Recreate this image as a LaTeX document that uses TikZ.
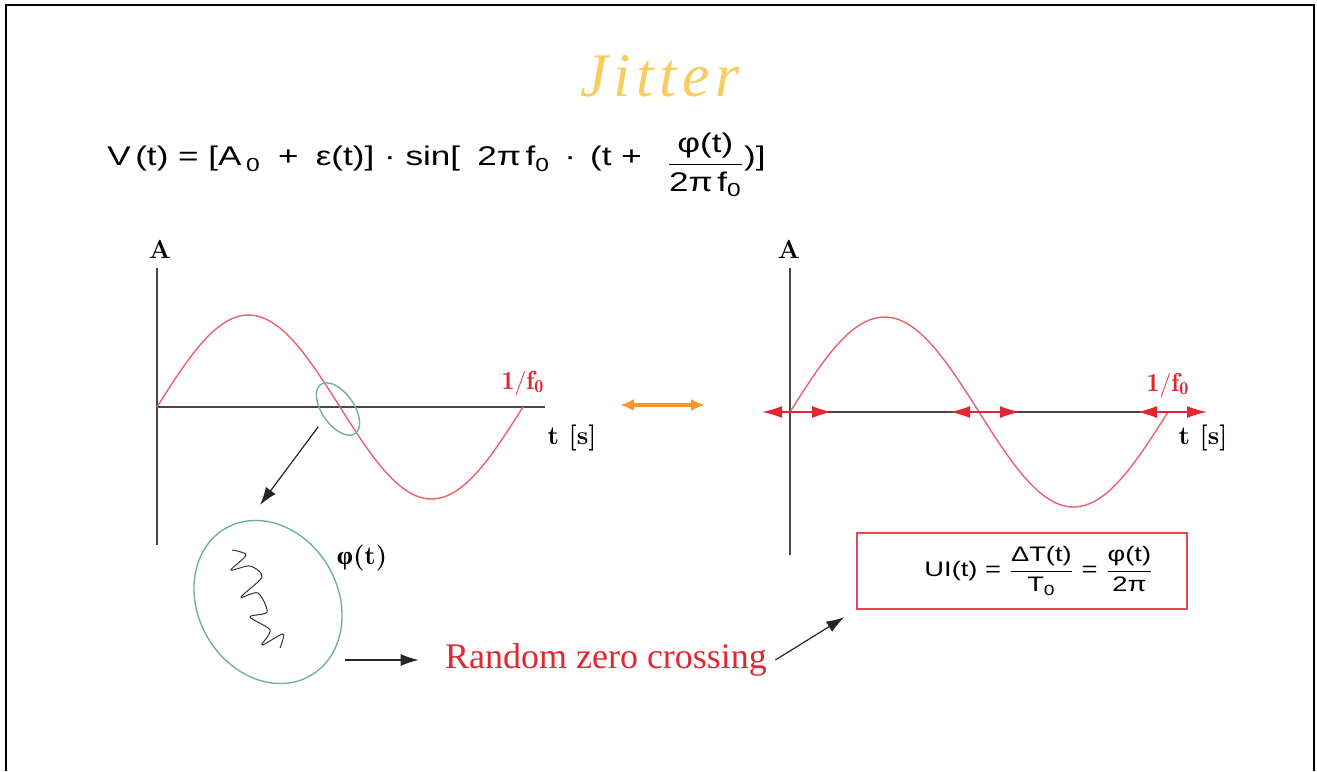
\documentclass[tikz,border=0pt]{standalone}
\usepackage{amsmath}
\usepackage{fontspec}
\newfontfamily\sansfnt[FakeStretch=1.3]{Liberation Sans}
\newfontfamily\serifnt{Liberation Serif}
\newfontfamily\titlefnt[LetterSpace=9]{Liberation Serif}
\usetikzlibrary{arrows.meta,shapes.geometric}
\definecolor{titlegold}{RGB}{249,204,98}
\definecolor{wavered}{RGB}{236,96,108}
\definecolor{labred}{RGB}{226,38,50}
\definecolor{ringgreen}{RGB}{112,176,156}
\definecolor{axisgray}{RGB}{72,72,72}
\definecolor{dblorange}{RGB}{245,152,42}
\tikzset{
  axis/.style  ={draw=axisgray, line width=1pt},
  wave/.style  ={draw=wavered, line width=0.7pt},
  lbl/.style   ={font=\bfseries\fontsize{13}{15}\selectfont, inner sep=1pt},
  redlbl/.style={lbl, text=labred},
  arr/.style   ={-{Latex[length=9pt,width=6pt]}, draw=black!85, line width=0.6pt},
  zc/.style    ={{Latex[length=10pt,width=6pt]}-{Latex[length=10pt,width=6pt]}, draw=labred, line width=0.8pt},
  dbl/.style   ={{Latex[length=7pt,width=6pt]}-{Latex[length=7pt,width=6pt]}, draw=dblorange, line width=2.2pt},
  ring/.style  ={ellipse, draw=ringgreen, line width=0.7pt, inner sep=0pt},
  eqn/.style   ={font=\sansfnt\fontsize{13.5}{16}\selectfont},
}

\begin{document}
\begin{tikzpicture}[x=0.5pt,y=-0.5pt]
\useasboundingbox (0,0) rectangle (1317,771);
% frame, open at the bottom
\draw[line width=1.2pt] (6,771) -- (6,5) -- (1314,5) -- (1314,771);

\node[font=\titlefnt\itshape\fontsize{31}{36}\selectfont, text=titlegold] (title) at (660,76) {Jitter};
\node[eqn, anchor=base west, inner sep=0pt] (signal) at (107,165)
  {V\,(t) = [A\,\raisebox{-1pt}{\textsubscript{0}} \;+\; ε(t)] · sin[\; 2π\,f\raisebox{-1pt}{\textsubscript{0}} \,·\, (t + \;\;\raisebox{-3.5pt}{$\dfrac{\mbox{φ(t)}}{\mbox{2π\,f\textsubscript{0}}}$})]};

% left: one period, zero crossing picked out
\draw[axis] (157,268) -- (157,545);
\draw[axis] (157,407) -- (545,407);
\draw[wave] plot[domain=157:523, samples=90, smooth] (\x, {407-92*sin(0.98361*(\x-157))});
\node[lbl] (ampL) at (160,249) {A};
\node[redlbl] (perL) at (523,383) {$\mathbf{1/f_0}$};
\node[lbl] (timeL) at (572,438) {t [s]};

\node[ring, minimum width=30pt, minimum height=16pt, rotate=-55] (zoomE) at (338,409) {};
\node[ring, minimum width=85pt, minimum height=70pt, rotate=-60] (noiseE) at (268,602) {};
\draw[black!80, line width=0.5pt] plot[smooth] coordinates {(232,550) (246,555) (231,570) (250,566) (262,577) (241,597) (258,593) (267,612) (250,617) (270,630) (262,645) (283,634) (280,648)};
\node[lbl] (phiL) at (362,558) {{\serifnt φ}(t)};

\coordinate (noiseTop) at (260,505);
\coordinate (noiseOut) at (345,660);
\draw[arr, shorten <=5pt] (zoomE.south) -- (noiseTop);

\node[font=\serifnt\fontsize{18}{22}\selectfont, text=labred, inner sep=4pt] (rzc) at (606,660) {Random zero crossing};
\draw[arr, shorten >=9pt] (noiseOut) -- (rzc.west);

% middle
\coordinate (dblL) at (620,405);
\coordinate (dblR) at (705,405);
\draw[dbl] (dblL) -- (dblR);

% right: zero crossings with their spread
\draw[axis] (790,268) -- (790,555);
\draw[axis] (790,412) -- (1190,412);
\draw[wave] plot[domain=790:1168, samples=90, smooth] (\x, {412-95*sin(0.95238*(\x-790))});
\foreach \c in {797,985,1172}
  \draw[zc] (\c-35,412) -- (\c+35,412);
\node[lbl] (ampR) at (789,249) {A};
\node[redlbl] (perR) at (1168,385) {$\mathbf{1/f_0}$};
\node[lbl] (timeR) at (1203,438) {t [s]};

\node[eqn, font=\sansfnt\fontsize{10.5}{13}\selectfont, draw=labred!85, line width=0.8pt, minimum width=165pt, minimum height=38pt] (uiBox) at (1022,571)
  {\hspace*{17pt}UI(t) = $\dfrac{\mbox{ΔT(t)}}{\mbox{T\textsubscript{0}}}$ = $\dfrac{\mbox{φ(t)}}{\mbox{2π}}$};
\draw[arr, shorten >=7pt] (rzc.east) -- (uiBox.south west);
\end{tikzpicture}
\end{document}
